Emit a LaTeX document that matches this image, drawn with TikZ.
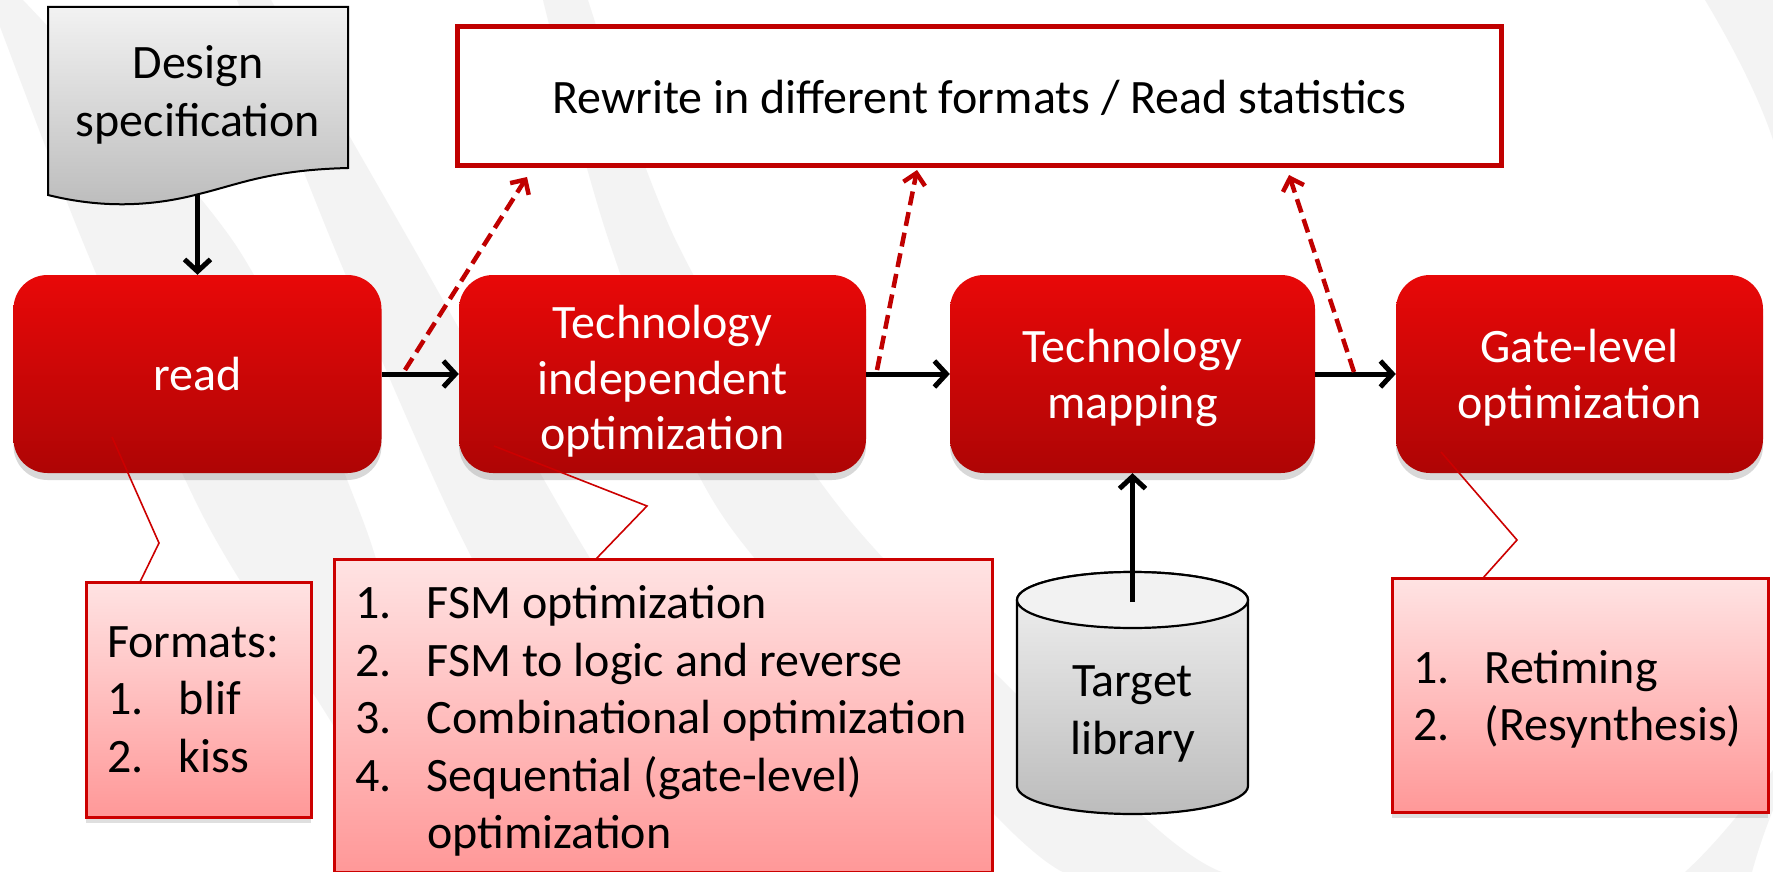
\documentclass[tikz,border=0pt]{standalone}
\usepackage{fontspec}
\setmainfont{Carlito}
\usetikzlibrary{arrows.meta,shadows,calc}
\definecolor{boxtop}{HTML}{E80808}
\definecolor{boxbot}{HTML}{AE0505}
\definecolor{calltop}{HTML}{FFE3E3}
\definecolor{callbot}{HTML}{FF9898}
\definecolor{darkred}{HTML}{C00000}
\definecolor{callborder}{HTML}{CC0000}
\definecolor{docTop}{HTML}{F2F2F2}
\definecolor{docBot}{HTML}{BCBCBC}
\definecolor{bgband}{HTML}{F3F3F3}
\newcommand\itm[2]{\mbox{\spaceskip=0pt\xspaceskip=0pt\relax\makebox[72pt][l]{#1}#2}}
\begin{document}
\begin{tikzpicture}[x=1pt,y=-1pt,
  txt/.style={font=\fontsize{48pt}{57.5pt}\selectfont},
  redbox/.style={font=\fontsize{48pt}{55.5pt}\selectfont, text depth=0pt, rounded corners=34pt,
    top color=boxtop, bottom color=boxbot,
    text=white, align=center, minimum height=198pt, inner sep=0pt,
    drop shadow={shadow xshift=0pt, shadow yshift=-7pt, opacity=0.3}},
  callbox/.style={txt, draw=callborder, line width=3pt, top color=calltop, bottom color=callbot,
    align=left, inner xsep=21pt, inner ysep=0pt,
    drop shadow={shadow xshift=0pt, shadow yshift=-6pt, opacity=0.25}},
  flow/.style={line width=5pt, -{Straight Barb[length=12pt,width=26pt]}},
  feed/.style={darkred, line width=4.5pt, dash pattern=on 14pt off 7pt, -{Straight Barb[length=11pt,width=22pt]}},
  pointer/.style={callborder, line width=1.6pt},
  band/.style={fill=bgband},
]
\useasboundingbox (0,0) rectangle (1773,872);
\fill[white] (0,0) rectangle (1773,872);

% faint background bands
\path[band] plot[smooth] coordinates {(-10,0) (85,247) (204,518) (330,720) (420,872)}
  -- plot[smooth] coordinates {(480,872) (420,720) (362,518) (237,247) (23,0)} -- cycle;
\path[band] plot[smooth] coordinates {(237,0) (334,247) (452,518) (560,720) (650,872)}
  -- plot[smooth] coordinates {(780,872) (690,720) (566,518) (413,247) (271,0)} -- cycle;
\path[band] plot[smooth] coordinates {(543,0) (611,247) (724,518) (995,815) (1063,872)}
  -- plot[smooth] coordinates {(1222,872) (1142,815) (848,518) (679,247) (588,0)} -- cycle;
\path[band] (1705,0) .. controls (1735,50) and (1760,100) .. (1773,140) -- (1773,0) -- cycle;
\path[band] (1685,872) .. controls (1720,840) and (1750,800) .. (1773,770) -- (1773,810)
  .. controls (1765,830) and (1758,850) .. (1752,872) -- cycle;

% design specification document
\shade[top color=docTop, bottom color=docBot, draw=black, line width=2pt]
  (48,7) -- (348,7) -- (348,168) .. controls (270,170) and (240,184) .. (199,194)
  .. controls (150,207) and (100,208) .. (48,195) -- cycle;
\node[txt, text depth=0pt, align=center] (spec) at (198,91) {Design\\specification};
\coordinate (specb) at (197.5,195);

% rewrite box
\node[txt, text depth=0pt, draw=darkred, line width=5pt, fill=white, minimum width=1044pt, minimum height=139pt] (rw) at (979,96.5)
  {Rewrite in different formats / Read statistics};

% main flow boxes
\node[redbox, minimum width=368pt] (read) at (197.5,374) {read};
\node[redbox, minimum width=407pt] (tind) at (662.5,374) {\rule{0pt}{40pt}Technology\\independent\\optimization};
\node[redbox, minimum width=365pt] (tmap) at (1132.5,374) {Technology\\mapping};
\node[redbox, minimum width=367pt] (glvl) at (1579.5,374) {Gate-level\\optimization};

% callouts
\node[callbox, text width=183pt, minimum height=235pt] (fmt) at (198.5,699.5)
  {\mbox{Formats:}\\\itm{1.}{blif}\\\itm{2.}{kiss}};
\node[callbox, text width=616pt, minimum height=313pt] (tio) at (663,715.5)
  {\rule{0pt}{44pt}\itm{1.}{FSM optimization}\\
   \itm{2.}{FSM to logic and reverse}\\
   \itm{3.}{Combinational optimization}\\
   \itm{4.}{Sequential (gate-level)}\\
   \itm{}{optimization}};
\node[callbox, text width=334pt, minimum height=234pt] (glo) at (1580,695)
  {\rule{0pt}{42pt}\itm{1.}{Retiming}\\\itm{2.}{(Resynthesis)}};

% callout pointers
\coordinate (fmtA) at (140,582); \coordinate (fmtB) at (159,543); \coordinate (fmtC) at (112,437);
\coordinate (tioA) at (596,559); \coordinate (tioB) at (647,506); \coordinate (tioC) at (494,446);
\coordinate (gloA) at (1483,578); \coordinate (gloB) at (1517,540); \coordinate (gloC) at (1441,452);
\draw[pointer] (fmtA) -- (fmtB) -- (fmtC);
\draw[pointer] (tioA) -- (tioB) -- (tioC);
\draw[pointer] (gloA) -- (gloB) -- (gloC);

% target library cylinder
\shade[top color=docTop, bottom color=docBot, draw=black, line width=2.2pt]
  (1017,600) -- (1017,786)
  .. controls (1017,801.5) and (1068.7,814) .. (1132.5,814)
  .. controls (1196.3,814) and (1248,801.5) .. (1248,786)
  -- (1248,600)
  .. controls (1248,584.5) and (1196.3,572) .. (1132.5,572)
  .. controls (1068.7,572) and (1017,584.5) .. (1017,600) -- cycle;
\fill[docTop] (1017,600)
  .. controls (1017,615.5) and (1068.7,628) .. (1132.5,628)
  .. controls (1196.3,628) and (1248,615.5) .. (1248,600)
  .. controls (1248,584.5) and (1196.3,572) .. (1132.5,572)
  .. controls (1068.7,572) and (1017,584.5) .. (1017,600) -- cycle;
\draw[line width=2.2pt] (1017,600)
  .. controls (1017,615.5) and (1068.7,628) .. (1132.5,628)
  .. controls (1196.3,628) and (1248,615.5) .. (1248,600)
  .. controls (1248,584.5) and (1196.3,572) .. (1132.5,572)
  .. controls (1068.7,572) and (1017,584.5) .. (1017,600) -- cycle;
\node[txt, text depth=0pt, align=center] (lib) at (1132.5,710) {Target\\library};
\coordinate (libtop) at (1132.5,602);

% flow arrows
\draw[flow] (specb) -- (read.north);
\draw[flow] (read) -- (tind);
\draw[flow] (tind) -- (tmap);
\draw[flow] (tmap) -- (glvl);
\draw[flow] (libtop) -- (tmap.south);

% feedback dashed arrows
\coordinate (f1s) at (405,370); \coordinate (f1e) at (527,177);
\coordinate (f2s) at (877,370); \coordinate (f2e) at (917,170);
\coordinate (f3s) at (1354,372); \coordinate (f3e) at (1289,175);
\draw[feed] (f1s) -- (f1e);
\draw[feed] (f2s) -- (f2e);
\draw[feed] (f3s) -- (f3e);
\end{tikzpicture}
\end{document}
